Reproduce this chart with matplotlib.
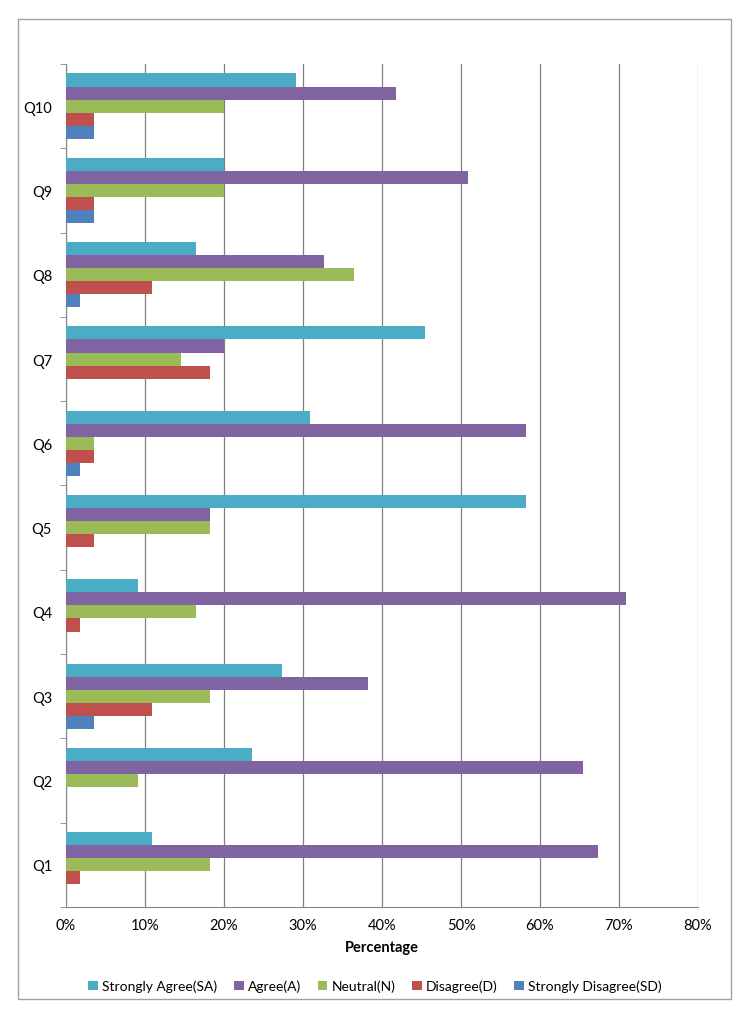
import matplotlib
matplotlib.use("Agg")
import matplotlib.pyplot as plt
import numpy as np
from matplotlib.patches import Rectangle

plt.rcParams['font.family'] = ['Lato', 'DejaVu Sans']

categories = ["Q1", "Q2", "Q3", "Q4", "Q5", "Q6", "Q7", "Q8", "Q9", "Q10"]
series_names = ["Strongly Agree(SA)", "Agree(A)", "Neutral(N)", "Disagree(D)", "Strongly Disagree(SD)"]
sa = [10.9, 23.6, 27.3, 9.1, 58.2, 30.9, 45.5, 16.4, 20.0, 29.1]
ag = [67.3, 65.5, 38.2, 70.9, 18.2, 58.2, 20.0, 32.7, 50.9, 41.8]
ne = [18.2, 9.1, 18.2, 16.4, 18.2, 3.6, 14.5, 36.4, 20.0, 20.0]
di = [1.8, 0.0, 10.9, 1.8, 3.6, 3.6, 18.2, 10.9, 3.6, 3.6]
sd = [0.0, 0.0, 3.6, 0.0, 0.0, 1.8, 0.0, 1.8, 3.6, 3.6]
colors = ["#4BACC6", "#8064A2", "#9BBB59", "#C0504D", "#4F81BD"]
xticks = [0, 10, 20, 30, 40, 50, 60, 70, 80]

fig = plt.figure(figsize=(7.5, 10.2), dpi=100)
ax = fig.add_axes([66/750, 1-908/1020, (698-66)/750, (908-65)/1020])

n = len(categories)
y = np.arange(n)
h = 0.155
data = [sa, ag, ne, di, sd]
for i, (vals, name, c) in enumerate(zip(data, series_names, colors)):
    offs = (2 - i) * h
    ax.barh(y + offs, vals, height=h, color=c, label=name, zorder=3)

ax.set_xlim(0, 80)
ax.set_ylim(-0.5, n - 0.5)
ax.set_xticks(xticks)
ax.set_xticklabels([f"{t}%" for t in xticks], fontsize=10.5)
ax.set_yticks(y)
ax.set_yticklabels(categories, fontsize=10.5)
ax.set_yticks(np.arange(-0.5, n, 1), minor=True)
ax.tick_params(axis='y', which='major', length=0, pad=10)
ax.tick_params(axis='y', which='minor', length=4, color='#868686', direction='out')
ax.tick_params(axis='x', which='major', length=0, pad=8)
ax.grid(axis='x', color='#808080', linewidth=0.9, zorder=0)
for s in ['top', 'right']:
    ax.spines[s].set_visible(False)
for s in ['left', 'bottom']:
    ax.spines[s].set_color('#868686')
ax.set_xlabel("Percentage", fontsize=10.5, fontweight='bold', labelpad=6)

handles, labels = ax.get_legend_handles_labels()
fig.legend(handles, labels, loc='center', bbox_to_anchor=(0.5, 1-987/1020), ncol=5,
           frameon=False, fontsize=10, handlelength=0.7, handleheight=0.7,
           handletextpad=0.3, columnspacing=1.2)

fig.patches.append(Rectangle((18/750, 1-1000/1020), (731-18)/750, (1000-20)/1020,
                             transform=fig.transFigure, fill=False,
                             edgecolor='#A0A0A0', linewidth=1.0))

fig.savefig("out.png", dpi=100)
